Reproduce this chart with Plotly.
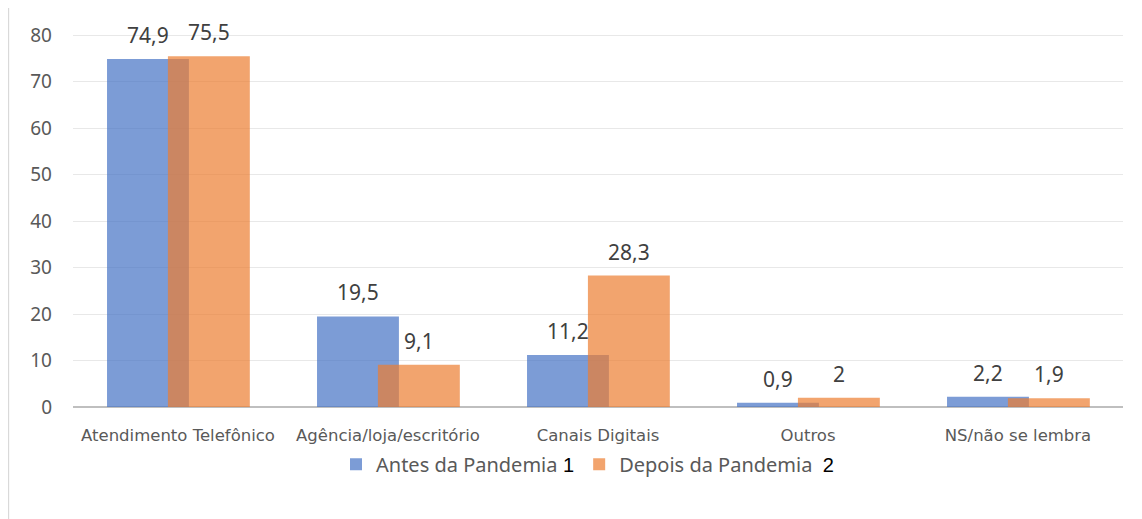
import plotly.graph_objects as go

categories = ["Atendimento Telefônico", "Agência/loja/escritório", "Canais Digitais",
              "Outros", "NS/não se lembra"]
antes = [74.9, 19.5, 11.2, 0.9, 2.2]
depois = [75.5, 9.1, 28.3, 2.0, 1.9]
antes_txt = ["74,9", "19,5", "11,2", "0,9", "2,2"]
depois_txt = ["75,5", "9,1", "28,3", "2", "1,9"]
y_ticks = [0, 10, 20, 30, 40, 50, 60, 70, 80]

FONT = "Noto Sans, DejaVu Sans, sans-serif"
BAR_W = 0.39
OFF_A, OFF_D = -0.338, -0.048
PLOT_W = 1050  # px of plot area, used to shift the value labels onto bar centres

fig = go.Figure()
fig.add_trace(go.Bar(
    x=categories, y=antes,
    name="Antes da Pandemia<span style='font-family:Liberation Sans;color:#000'> 1</span>",
    marker=dict(color="rgba(68,114,196,0.7)", line=dict(width=0)),
    width=BAR_W, offset=OFF_A,
))
fig.add_trace(go.Bar(
    x=categories, y=depois,
    name="Depois da Pandemia  <span style='font-family:Liberation Sans;color:#000'>2</span>",
    marker=dict(color="rgba(237,125,49,0.7)", line=dict(width=0)),
    width=BAR_W, offset=OFF_D,
))

# value labels above the bars
px_per_cat = PLOT_W / len(categories)
annotations = []
for vals, txts, off in [(antes, antes_txt, OFF_A), (depois, depois_txt, OFF_D)]:
    for cat, v, t in zip(categories, vals, txts):
        annotations.append(dict(
            x=cat, y=v, text=t, showarrow=False,
            xshift=(off + BAR_W / 2) * px_per_cat, yshift=24,
            font=dict(size=21, color="#404040", family=FONT),
        ))

fig.update_layout(
    barmode="overlay",
    width=1142, height=519,
    paper_bgcolor="white",
    plot_bgcolor="white",
    font=dict(family=FONT, color="#595959"),
    margin=dict(l=65, r=27, t=18, b=120),
    xaxis=dict(
        showgrid=False, tickangle=0, ticks="",
        tickfont=dict(size=16.5, color="#595959", family="DejaVu Sans, sans-serif"),
        showline=False, ticklabelstandoff=16,
    ),
    yaxis=dict(
        range=[0, 82], tickvals=y_ticks,
        showgrid=True, gridcolor="#E8E8E8", gridwidth=1,
        zeroline=True, zerolinecolor="#BFBFBF", zerolinewidth=2,
        tickfont=dict(size=19, color="#595959"),
        ticklabelstandoff=20,
    ),
    legend=dict(
        orientation="h", x=0.49, xanchor="center", y=-0.15, yanchor="middle",
        font=dict(size=20, color="#595959"),
    ),
    showlegend=True,
    annotations=annotations,
    shapes=[dict(
        type="rect", xref="paper", yref="paper",
        x0=-0.0615, x1=1.2, y0=-0.5, y1=1.05,
        line=dict(color="#D9D9D9", width=1.5),
        fillcolor="rgba(0,0,0,0)", layer="below",
    )],
)

fig.write_html("out.html")
